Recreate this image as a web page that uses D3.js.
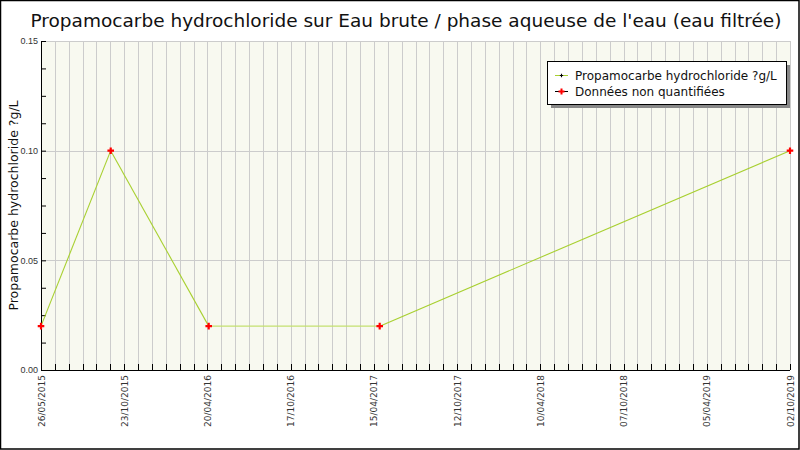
<!DOCTYPE html>
<html>
<head>
<meta charset="utf-8">
<script src="https://cdn.jsdelivr.net/npm/d3@7"></script>
<style>
  body { margin: 0; background: #fff; }
  svg { display: block; font-family: "DejaVu Sans", sans-serif; }
</style>
</head>
<body>
<div class="wrapper"></div>
<script>
// chart data
var sampleDates = ["2015-05-26", "2015-10-21", "2016-05-16", "2017-05-14", "2019-10-02"];
var sampleValues = [0.02, 0.10, 0.02, 0.02, 0.10];
var xTickLabels = ["26/05/2015", "23/10/2015", "20/04/2016", "17/10/2016", "15/04/2017",
                   "12/10/2017", "10/04/2018", "07/10/2018", "05/04/2019", "02/10/2019"];
var yTicks = [0, 0.05, 0.10, 0.15];
var seriesName = "Propamocarbe hydrochloride ?g/L";
var nqName = "Données non quantifiées";

var width = 800,
    height = 450,
    margin = {top: 41, right: 10, bottom: 80, left: 41};

var parse = d3.timeParse("%Y-%m-%d");
var data = sampleDates.map(function(d, i) { return {date: parse(d), value: sampleValues[i]}; });

var x = d3.scaleTime()
    .domain(d3.extent(data, function(d) { return d.date; }))
    .range([margin.left, width - margin.right]);

var xLab = d3.scalePoint()
    .domain(xTickLabels)
    .range([margin.left, width - margin.right]);

// 6 minor steps between labelled ticks
var nMinor = (xTickLabels.length - 1) * 6;
var xMinor = d3.scaleLinear()
    .domain([0, nMinor])
    .range([margin.left, width - margin.right]);

var y = d3.scaleLinear()
    .domain([0, 0.15])
    .range([height - margin.bottom, margin.top]);

var svg = d3.select(".wrapper").append("svg")
    .attr("width", width)
    .attr("height", height);

svg.append("rect")
    .attr("x", 0.5).attr("y", 0.5)
    .attr("width", width - 1.5).attr("height", height - 1.5)
    .attr("fill", "#fff")
    .attr("stroke", "#000")
    .attr("stroke-width", 1.5);

// plot background
svg.append("rect")
    .attr("x", margin.left).attr("y", margin.top)
    .attr("width", width - margin.right - margin.left)
    .attr("height", height - margin.bottom - margin.top)
    .attr("fill", "#f8f9f0");

// vertical grid
svg.append("g").selectAll("line")
    .data(d3.range(1, nMinor + 1))
    .enter().append("line")
    .attr("x1", function(d) { return Math.round(xMinor(d)) + 0.5; })
    .attr("x2", function(d) { return Math.round(xMinor(d)) + 0.5; })
    .attr("y1", margin.top)
    .attr("y2", height - margin.bottom)
    .attr("stroke", "#cccccc");

// horizontal grid
svg.append("g").selectAll("line")
    .data(yTicks.slice(1))
    .enter().append("line")
    .attr("x1", margin.left)
    .attr("x2", width - margin.right)
    .attr("y1", function(d) { return Math.round(y(d)) + 0.5; })
    .attr("y2", function(d) { return Math.round(y(d)) + 0.5; })
    .attr("stroke", "#cccccc");

// y axis
var yAxis = d3.axisLeft(y)
    .tickValues(d3.range(0, 0.1501, 0.0125))
    .tickSize(-5)
    .tickFormat(function(d) {
        return yTicks.some(function(t) { return Math.abs(t - d) < 1e-9; }) ? d3.format(".2f")(d) : "";
    });
var gy = svg.append("g")
    .attr("transform", "translate(" + margin.left + ",0)")
    .call(yAxis);
gy.select(".domain").attr("stroke", "#000").attr("d", "M0.5," + margin.top + "V" + (height - margin.bottom + 0.5));
gy.selectAll(".tick line").attr("stroke", "#000");
gy.selectAll(".tick text")
    .attr("x", -3)
    .attr("font-size", 9)
    .attr("fill", "#333");

// x axis minor ticks
var gx = svg.append("g")
    .attr("transform", "translate(0," + (height - margin.bottom) + ")");
gx.append("line")
    .attr("x1", margin.left).attr("x2", width - margin.right)
    .attr("y1", 0.5).attr("y2", 0.5)
    .attr("stroke", "#000");
gx.selectAll("line.tk")
    .data(d3.range(0, nMinor + 1))
    .enter().append("line")
    .attr("class", "tk")
    .attr("x1", function(d) { return Math.round(xMinor(d)) + 0.5; })
    .attr("x2", function(d) { return Math.round(xMinor(d)) + 0.5; })
    .attr("y1", 0)
    .attr("y2", -6)
    .attr("stroke", "#000");
gx.selectAll("text")
    .data(xTickLabels)
    .enter().append("text")
    .attr("transform", function(d) { return "translate(" + (xLab(d) + 3.5) + ",5) rotate(-90)"; })
    .attr("text-anchor", "end")
    .attr("font-size", 9)
    .attr("fill", "#333")
    .text(function(d) { return d; });

// series line, the flat stretch is drawn lighter
var line = d3.line()
    .x(function(d) { return x(d.date); })
    .y(function(d) { return y(d.value); });

for (var i = 0; i < data.length - 1; i++) {
    var flat = data[i].value === data[i + 1].value;
    svg.append("path")
        .datum([data[i], data[i + 1]])
        .attr("d", line)
        .attr("fill", "none")
        .attr("stroke", flat ? "#c4e070" : "#a8d030")
        .attr("stroke-width", flat ? 1.3 : 1.1);
}

// markers
svg.append("g").selectAll("path")
    .data(data)
    .enter().append("path")
    .attr("transform", function(d) { return "translate(" + x(d.date) + "," + y(d.value) + ")"; })
    .attr("d", d3.symbol().type(d3.symbolCross).size(24))
    .attr("fill", "#ff0000");

// title
svg.append("text")
    .attr("x", width / 2 + 6)
    .attr("y", 27)
    .attr("text-anchor", "middle")
    .attr("font-size", 18.5)
    .attr("fill", "#111")
    .text("Propamocarbe hydrochloride sur Eau brute / phase aqueuse de l'eau (eau filtrée)");

// y label
svg.append("text")
    .attr("transform", "translate(18," + ((margin.top + height - margin.bottom) / 2) + ") rotate(-90)")
    .attr("text-anchor", "middle")
    .attr("font-size", 12.5)
    .attr("fill", "#111")
    .text(seriesName);

// legend
var lg = svg.append("g").attr("transform", "translate(547,61)");
lg.append("rect")
    .attr("x", 4).attr("y", 4)
    .attr("width", 239).attr("height", 43)
    .attr("fill", "#888");
lg.append("rect")
    .attr("x", 0.5).attr("y", 0.5)
    .attr("width", 239).attr("height", 43)
    .attr("fill", "#fff")
    .attr("stroke", "#000");

var legendItems = [
    {label: seriesName, line: "#a8d030", mark: "#000", size: 6},
    {label: nqName, line: "#000", mark: "#ff0000", size: 20}
];
var li = lg.selectAll("g.item")
    .data(legendItems)
    .enter().append("g")
    .attr("class", "item")
    .attr("transform", function(d, i) { return "translate(0," + (14 + i * 16) + ")"; });
li.append("line")
    .attr("x1", 8).attr("x2", 21)
    .attr("y1", 0.5).attr("y2", 0.5)
    .attr("stroke", function(d) { return d.line; });
li.append("path")
    .attr("transform", "translate(14.5,0.5)")
    .attr("d", function(d) { return d3.symbol().type(d3.symbolCross).size(d.size)(); })
    .attr("fill", function(d) { return d.mark; });
li.append("text")
    .attr("x", 28)
    .attr("y", 4.5)
    .attr("font-size", 12)
    .attr("fill", "#111")
    .text(function(d) { return d.label; });
</script>
</body>
</html>
